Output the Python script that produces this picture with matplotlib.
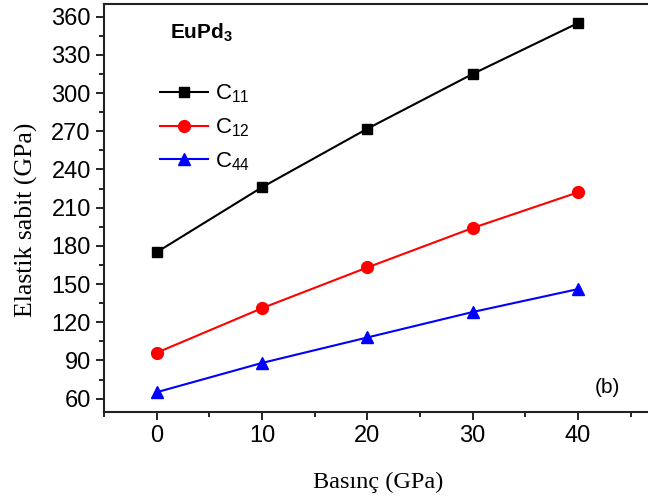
import matplotlib.pyplot as plt
from matplotlib.ticker import MultipleLocator

# ----- DATA -----
pressure = [0, 10, 20, 30, 40]
c11 = [175, 226, 272, 315, 355]
c12 = [96, 131, 163, 194, 222]
c44 = [65, 88, 108, 128, 146]

plt.rcParams["font.family"] = ["Liberation Sans", "DejaVu Sans"]
plt.rcParams["mathtext.fontset"] = "custom"
plt.rcParams["mathtext.rm"] = "Liberation Sans"
plt.rcParams["mathtext.it"] = "Liberation Sans"
plt.rcParams["mathtext.bf"] = "Liberation Sans:bold"

fig = plt.figure(figsize=(6.48, 5.03), dpi=100)
ax = fig.add_axes([0.1605, 0.181, 0.845, 0.811])

ax.plot(pressure, c11, color="black", marker="s", markersize=7.5, lw=1.5, label="C$_{11}$")
ax.plot(pressure, c12, color="red", marker="o", markersize=8.5, lw=1.5, label="C$_{12}$")
ax.plot(pressure, c44, color="blue", marker="^", markersize=9, lw=1.5, label="C$_{44}$")

ax.set_xlim(-5, 47)
ax.set_ylim(49.5, 370)
ax.xaxis.set_major_locator(MultipleLocator(10))
ax.xaxis.set_minor_locator(MultipleLocator(5))
ax.yaxis.set_major_locator(MultipleLocator(30))
ax.yaxis.set_minor_locator(MultipleLocator(15))

ax.tick_params(which="major", direction="out", length=6, width=1.2, labelsize=17)
ax.tick_params(which="minor", direction="out", length=3.5, width=1.2)
for s in ax.spines.values():
    s.set_linewidth(1.5)
    s.set_color("#222222")

ax.set_xlabel("Basınç (GPa)", family=["Liberation Serif", "DejaVu Serif"], fontsize=17.5, labelpad=18)
ax.set_ylabel("Elastik sabit (GPa)", family=["Liberation Serif", "DejaVu Serif"], fontsize=18.5)
ax.yaxis.set_label_coords(-0.12, 0.47)

ax.text(0.12, 0.93, "EuPd$_\\mathbf{3}$", transform=ax.transAxes, fontsize=15, fontweight="bold", va="center")
ax.text(0.92, 0.059, "(b)", transform=ax.transAxes, fontsize=15, va="center", ha="center")

leg = ax.legend(loc="upper left", bbox_to_anchor=(0.065, 0.856), frameon=False, fontsize=16,
                handlelength=2.2, handletextpad=0.3, labelspacing=0.5)

fig.savefig("out.png", dpi=100)
